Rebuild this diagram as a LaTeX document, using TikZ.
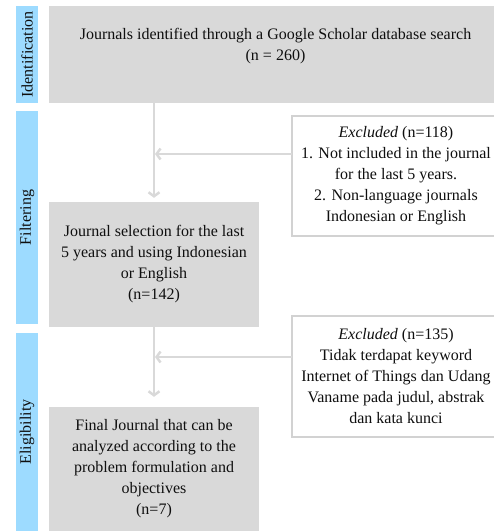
\documentclass[tikz,border=0pt]{standalone}
\usepackage{fontspec}
\setmainfont{Liberation Serif}
\usetikzlibrary{arrows.meta}
\definecolor{barblue}{RGB}{157,219,255}
\definecolor{boxgray}{RGB}{217,217,217}
\definecolor{linegray}{RGB}{210,210,210}
\definecolor{txtgray}{RGB}{15,15,15}
\tikzset{
  sidebar/.style={fill=barblue,rotate=90,minimum height=22pt,inner sep=0pt,text=txtgray,font=\fontsize{16}{21}\selectfont},
  boxtext/.style={align=center,inner sep=0pt,text=txtgray,font=\fontsize{16}{21}\selectfont},
  graybox/.style={boxtext,fill=boxgray},
  exclbox/.style={boxtext,draw=linegray,line width=2.5pt,fill=white},
  flow/.style={draw=boxgray,line width=2.5pt,-{Straight Barb[length=4pt,width=11pt]}}
}
\begin{document}
\begin{tikzpicture}[x=1pt,y=-1pt]
  \useasboundingbox (0,0) rectangle (494,531);
  \clip (0,0) rectangle (494,531);
  \node[sidebar,minimum width=97pt] (idbar) at (27,54.5) {Identification};
  \node[sidebar,minimum width=213pt] (filbar) at (27,217.5) {Filtering};
  \node[sidebar,minimum width=198pt] (elbar) at (27,432) {Eligibility};
  \node[graybox,minimum width=453pt,minimum height=97pt] (ident) at (275.5,54.5) {};
  \node[boxtext] (identtxt) at (275.5,46) {Journals identified through a Google Scholar database search\\(n = 260)};
  \node[graybox,minimum width=210pt,minimum height=125pt] (filter) at (154,264.5)
    {Journal selection for the last\\5 years and using Indonesian\\or English\\(n=142)};
  \node[exclbox,minimum width=208pt,minimum height=120pt] (excl1) at (396,176)
    {\textit{Excluded} (n=118)\\1. Not included in the journal\\for the last 5 years.\\2. Non-language journals\\Indonesian or English};
  \node[graybox,minimum width=210pt,minimum height=124pt] (final) at (154,469)
    {Final Journal that can be\\analyzed according to the\\problem formulation and\\objectives\\(n=7)};
  \node[exclbox,minimum width=208pt,minimum height=121pt] (excl2) at (396,376.5)
    {\textit{Excluded} (n=135)\\Tidak terdapat keyword\\Internet of Things dan Udang\\Vaname pada judul, abstrak\\dan kata kunci};
  \coordinate (e1) at (292,154);
  \coordinate (e2) at (292,357);
  \draw[flow,shorten >=4pt] (ident.south -| filter.north) -- (filter.north);
  \draw[flow,shorten >=1pt] (e1) -- (e1 -| filter.north);
  \draw[flow,shorten >=10pt] (filter.south) -- (final.north);
  \draw[flow,shorten >=1pt] (e2) -- (e2 -| final.north);
\end{tikzpicture}
\end{document}
